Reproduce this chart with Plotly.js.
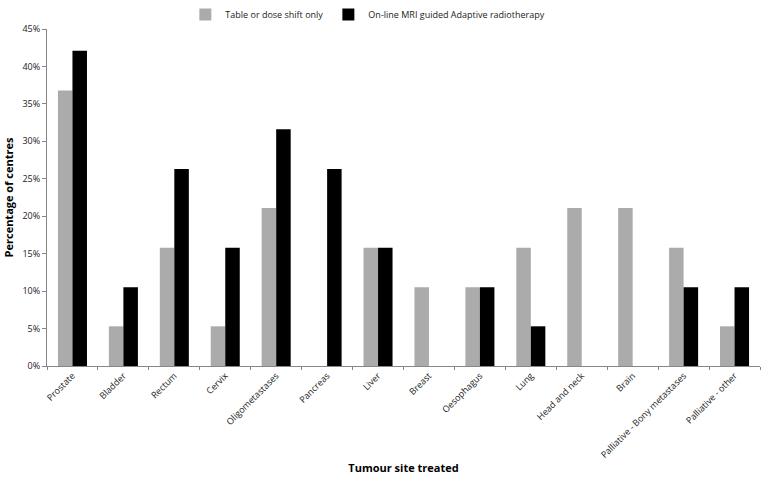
<!DOCTYPE html>
<html>
<head>
<meta charset="utf-8">
<script src="https://cdn.plot.ly/plotly-3.0.1.min.js"></script>
<style>html,body{margin:0;padding:0;background:#fff;}#chart{width:761px;height:482px;}</style>
</head>
<body>
<div id="chart"></div>
<script>
var categories = ["Prostate","Bladder","Rectum","Cervix","Oligometastases","Pancreas","Liver","Breast","Oesophagus","Lung","Head and neck","Brain","Palliative - Bony metastases","Palliative - other"];
var tableShift = [36.8, 5.3, 15.8, 5.3, 21.1, 0, 15.8, 10.5, 10.5, 15.8, 21.1, 21.1, 15.8, 5.3];
var mriAdaptive = [42.1, 10.5, 26.3, 15.8, 31.6, 26.3, 15.8, 0, 10.5, 5.3, 0, 0, 10.5, 10.5];
var yTicks = [0,5,10,15,20,25,30,35,40,45];

var font = "Open Sans, Liberation Sans, sans-serif";
var data = [
  {type:"bar", name:"Table or dose shift only", x:categories, y:tableShift, marker:{color:"#ABABAB"}},
  {type:"bar", name:"On-line MRI guided Adaptive radiotherapy", x:categories, y:mriAdaptive, marker:{color:"#000000"}}
];
var layout = {
  width:761, height:482,
  margin:{l:47, r:1, t:25, b:116},
  paper_bgcolor:"#fff", plot_bgcolor:"#fff",
  font:{family:font, size:9, color:"#222"},
  barmode:"group", bargap:0.43, bargroupgap:0,
  showlegend:true,
  legend:{orientation:"h", x:0.45, xanchor:"center", y:1.0, yanchor:"top", yref:"container",
          font:{family:font, size:9, color:"#222"}, itemwidth:30, tracegroupgap:0, traceorder:"normal"},
  xaxis:{
    type:"category", tickangle:-45, showgrid:false, zeroline:false, automargin:false,
    showline:true, linecolor:"#868686", linewidth:1,
    ticks:"outside", tickson:"boundaries", ticklen:3, tickcolor:"#868686",
    tickfont:{family:font, size:9, color:"#222"},
    title:{text:"Tumour site treated", font:{family:font, size:11, color:"#000", weight:"bold"}, standoff:4}
  },
  yaxis:{
    range:[0,45], tickvals:yTicks, ticktext:yTicks.map(function(v){return v+"%";}), automargin:false,
    showgrid:false, zeroline:false, showline:true, linecolor:"#868686", linewidth:1,
    ticks:"outside", ticklen:4, tickcolor:"#868686",
    tickfont:{family:font, size:9, color:"#222"},
    title:{text:"Percentage of centres", font:{family:font, size:11, color:"#000", weight:"bold"}, standoff:6}
  }
};
Plotly.newPlot("chart", data, layout, {displayModeBar:false, staticPlot:true});
</script>
</body>
</html>
